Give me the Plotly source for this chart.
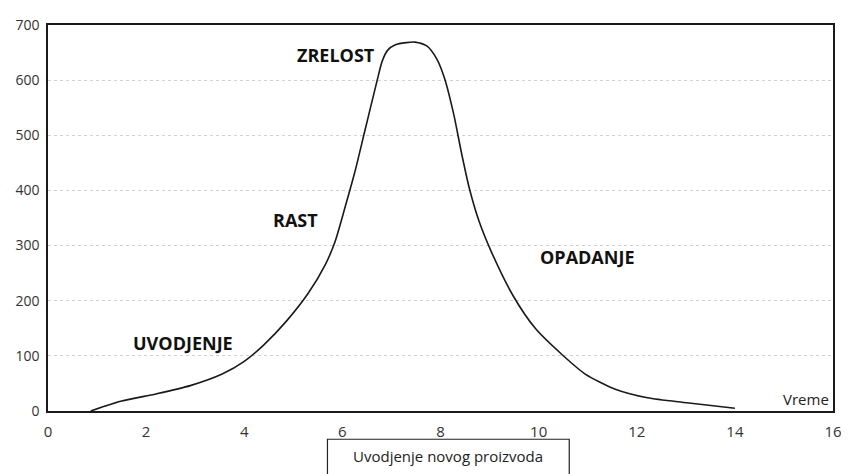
import plotly.graph_objects as go

# Product life-cycle curve (Vreme vs sales)
vreme = [0.87, 1.5, 2.2, 2.9, 3.55, 4.0, 4.4, 4.86, 5.3, 5.65, 5.85, 6.05, 6.25,
         6.45, 6.71, 6.81, 6.92, 7.08, 7.3, 7.48, 7.72, 7.92, 8.08, 8.27, 8.43,
         8.59, 8.79, 9.03, 9.48, 9.94, 10.48, 10.95, 11.55, 12.22, 13.02, 14.0]
prodaja = [0, 18, 31, 46, 67, 90, 120, 163, 213, 265, 307, 368, 432,
           505, 600, 634, 654, 664, 668, 669, 662, 639, 604, 538, 467,
           403, 343, 290, 209, 149, 102, 67, 40, 24, 15, 5]

faze = ["ZRELOST", "RAST", "UVODJENJE", "OPADANJE"]
faze_x = [5.87, 5.04, 2.76, 10.98]
faze_y = [646, 346, 124, 279]

x_ticks = [0, 2, 4, 6, 8, 10, 12, 14, 16]
y_ticks = [0, 100, 200, 300, 400, 500, 600, 700]

fig = go.Figure()
fig.add_trace(go.Scatter(
    x=vreme, y=prodaja, mode="lines",
    line=dict(color="#1a1a1a", width=1.6, shape="spline", smoothing=0.7),
    hoverinfo="skip", showlegend=False,
))

for t, xx, yy in zip(faze, faze_x, faze_y):
    fig.add_annotation(x=xx, y=yy, text="<b>" + t + "</b>", showarrow=False,
                       font=dict(family="Open Sans", size=18, color="#111"),
                       xanchor="center", yanchor="middle")

fig.add_annotation(x=15.45, y=22, text="Vreme", showarrow=False,
                   font=dict(family="Open Sans", size=15, color="#222"),
                   xanchor="center", yanchor="middle")

# box below the axis
fig.add_shape(type="rect", xref="paper", yref="paper",
              x0=0.356, x1=0.664, y0=-0.0732, y1=-0.2,
              line=dict(color="#222", width=1.2), fillcolor="white")
fig.add_annotation(xref="paper", yref="paper", x=0.51, y=-0.116,
                   text="Uvodjenje novog proizvoda", showarrow=False,
                   font=dict(family="Open Sans", size=15, color="#222"),
                   xanchor="center", yanchor="middle")

fig.update_xaxes(range=[0, 16], tickvals=x_ticks, ticktext=[str(v) for v in x_ticks],
                 showgrid=False, zeroline=False, showline=True, mirror=True,
                 linecolor="#1a1a1a", linewidth=1.6, ticks="",
                 tickfont=dict(family="Open Sans", size=15, color="#333"),
                 ticklabelstandoff=6, ticklabeloverflow="allow")
fig.update_yaxes(range=[0, 700], tickvals=y_ticks, ticktext=[str(v) for v in y_ticks],
                 showgrid=True, gridcolor="#d0d0d0", griddash="dot", gridwidth=1,
                 zeroline=False, showline=True, mirror=True,
                 linecolor="#1a1a1a", linewidth=1.6, ticks="",
                 tickfont=dict(family="Open Sans", size=14, color="#333"),
                 ticklabelstandoff=4, ticklabeloverflow="allow")

fig.update_layout(
    width=841, height=466,
    margin=dict(l=39, r=10, t=7, b=63),
    paper_bgcolor="white", plot_bgcolor="white",
    showlegend=False,
)

fig.write_html("out.html", config={"displayModeBar": False})
